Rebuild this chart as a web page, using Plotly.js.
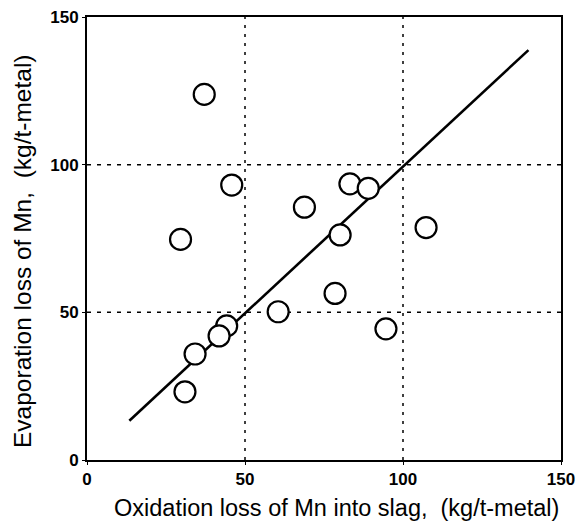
<!DOCTYPE html>
<html>
<head>
<meta charset="utf-8">
<script src="https://cdn.plot.ly/plotly-3.0.1.min.js"></script>
<style>html,body{margin:0;padding:0;background:#fff;}#chart{width:580px;height:522px;}</style>
</head>
<body>
<div id="chart"></div>
<script>
const oxidationLoss = [37.1, 45.8, 68.8, 29.6, 83.2, 89.0, 80.1, 107.3, 78.5, 94.6, 60.5, 44.2, 41.8, 34.2, 31.0];
const evaporationLoss = [123.8, 93.1, 85.6, 74.7, 93.5, 92.0, 76.2, 78.7, 56.4, 44.4, 50.2, 45.4, 42.0, 35.9, 23.1];
const fitX = [13.4, 139.7];
const fitY = [13.3, 138.8];
const tickVals = [0, 50, 100, 150];
const tickText = ['0', '50', '100', '150'];
const xTitle = 'Oxidation loss of Mn into slag,  (kg/t-metal)';
const yTitle = 'Evaporation loss of Mn,  (kg/t-metal)';

const font = {family: 'Liberation Sans, Arial, sans-serif', color: '#000'};

const traces = [
  {x: fitX, y: fitY, mode: 'lines', type: 'scatter',
   line: {color: '#000', width: 2.6}, hoverinfo: 'skip'},
  {x: oxidationLoss, y: evaporationLoss, mode: 'markers', type: 'scatter',
   marker: {symbol: 'circle', size: 21, color: '#fff', line: {color: '#000', width: 2.2}}}
];

const axisCommon = {
  range: [0, 150], tickvals: tickVals, ticktext: tickText,
  showgrid: false, zeroline: false,
  showline: true, linecolor: '#000', linewidth: 2, mirror: true,
  ticks: 'outside', ticklen: 3, tickwidth: 1, tickcolor: '#000',
  tickfont: Object.assign({size: 17, weight: 'bold'}, font)
};

const shapes = [];
[50, 100].forEach(v => {
  shapes.push({type: 'line', xref: 'x', yref: 'paper', x0: v, x1: v, y0: 0, y1: 1,
    line: {color: '#000', width: 1.5, dash: '3px,6px'}, layer: 'below'});
  shapes.push({type: 'line', xref: 'paper', yref: 'y', x0: 0, x1: 1, y0: v, y1: v,
    line: {color: '#000', width: 1.5, dash: '4px,6px'}, layer: 'below'});
});

const layout = {
  width: 580, height: 522,
  margin: {l: 87, r: 19, t: 17, b: 62},
  paper_bgcolor: '#fff', plot_bgcolor: '#fff',
  showlegend: false,
  xaxis: Object.assign({}, axisCommon),
  yaxis: Object.assign({}, axisCommon),
  shapes: shapes,
  annotations: [
    {text: xTitle, xref: 'paper', yref: 'paper', x: (336 - 87) / 474, y: -(508 - 460) / 443,
     xanchor: 'center', yanchor: 'middle', showarrow: false, font: Object.assign({size: 23.5}, font)},
    {text: yTitle, xref: 'paper', yref: 'paper', x: -(87 - 22) / 474, y: (460 - 251) / 443,
     xanchor: 'center', yanchor: 'middle', textangle: -90, showarrow: false, font: Object.assign({size: 24.5}, font)}
  ]
};

Plotly.newPlot('chart', traces, layout, {displayModeBar: false, staticPlot: true});
</script>
</body>
</html>
